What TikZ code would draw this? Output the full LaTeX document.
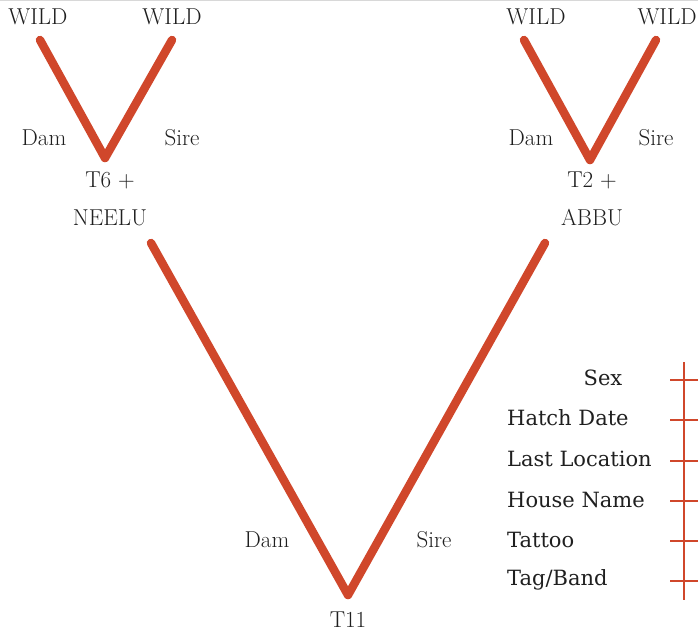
\documentclass[tikz,border=0pt]{standalone}
\usepackage{fontspec}
\newfontfamily\legendfont{DejaVu Serif}
\definecolor{lineage}{HTML}{D0472B}
\definecolor{rulegray}{HTML}{D8D8D8}
\begin{document}
\begin{tikzpicture}[x=1pt,y=-1pt,
  lineagepath/.style={draw=lineage,line width=8.5pt,line cap=round,line join=round},
  tag/.style={font=\fontsize{23}{25}\selectfont,text=black!88,inner sep=0pt},
  legendtext/.style={font=\legendfont\fontsize{21}{24}\selectfont,text=black!88,inner sep=0pt},
  legendrule/.style={draw=lineage,line width=1.6pt}]
\useasboundingbox (0,0) rectangle (698,632);
\draw[rulegray,line width=1pt] (0,0.5) -- (698,0.5);

% ancestors on the left branch
\coordinate (wl1) at (40,40);
\coordinate (wl2) at (172,40);
\coordinate (t6) at (105,158);
\draw[lineagepath] (wl1) -- (t6) -- (wl2);
\node[tag] (wildA) at (38,17) {WILD};
\node[tag] (wildB) at (172,17) {WILD};
\node[tag] (damA) at (44,138) {Dam};
\node[tag] (sireA) at (182,138) {Sire};
\node[tag] (t6lbl) at (110,180) {T6 +};
\node[tag] (neelu) at (110,218) {NEELU};

% ancestors on the right branch
\coordinate (wr1) at (524,40);
\coordinate (wr2) at (656,40);
\coordinate (t2) at (590,160);
\draw[lineagepath] (wr1) -- (t2) -- (wr2);
\node[tag] (wildC) at (536,17) {WILD};
\node[tag] (wildD) at (667,17) {WILD};
\node[tag] (damB) at (531,138) {Dam};
\node[tag] (sireB) at (656,138) {Sire};
\node[tag] (t2lbl) at (592,180) {T2 +};
\node[tag] (abbu) at (592,218) {ABBU};

% offspring
\coordinate (pa) at (151,243);
\coordinate (pb) at (545,243);
\coordinate (t11) at (348,595);
\draw[lineagepath] (pa) -- (t11) -- (pb);
\node[tag] (damC) at (267,540) {Dam};
\node[tag] (sireC) at (434,540) {Sire};
\node[tag] (t11lbl) at (348,620) {T11};

% record fields
\coordinate (bartop) at (684,362);
\coordinate (barbot) at (684,600);
\draw[legendrule] (bartop) -- (barbot);
\node[legendtext] (fsex) at (603,378) {Sex};
\node[legendtext,anchor=west] (fhatch) at (507,418) {Hatch Date};
\node[legendtext,anchor=west] (floc) at (507,459) {Last Location};
\node[legendtext,anchor=west] (fhouse) at (507,500) {House Name};
\node[legendtext,anchor=west] (ftat) at (507,540) {Tattoo};
\node[legendtext,anchor=west] (ftag) at (507,580) {Tag/Band};
\foreach \y in {380,420,461,501,541,581}
  \draw[legendrule] (670,\y) -- (698,\y);
\end{tikzpicture}
\end{document}
